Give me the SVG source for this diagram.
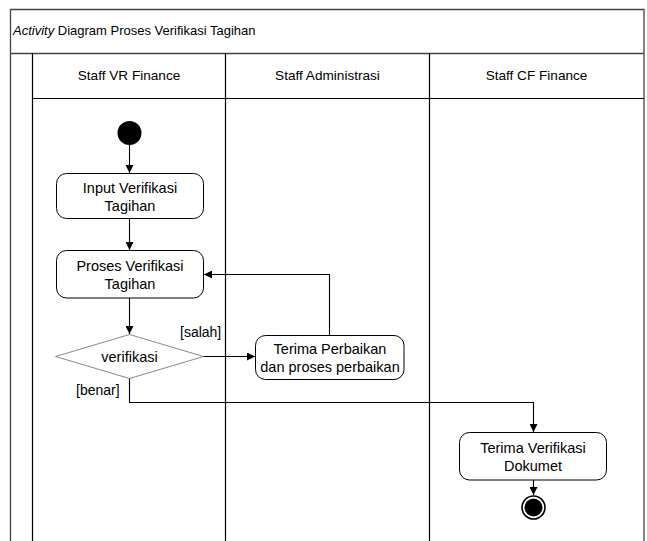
<svg xmlns="http://www.w3.org/2000/svg" width="647" height="541" viewBox="0 0 647 541">
<defs>
<marker id="arr" viewBox="0 0 10 10" refX="10" refY="5" markerWidth="8" markerHeight="8" markerUnits="userSpaceOnUse" orient="auto">
<path d="M0,0 L10,5 L0,10 z" fill="#000"/>
</marker>
<style>
.frame{fill:none;stroke:#444;stroke-width:1.3}
.lane{fill:none;stroke:#000;stroke-width:1.2}
.node{fill:#fff;stroke:#000;stroke-width:1}
.dia{fill:#fff;stroke:#888;stroke-width:1}
.txt{font-family:"Liberation Sans",Arial,sans-serif;font-size:14.5px;fill:#000;text-anchor:middle}
.hdr{font-family:"Liberation Sans",Arial,sans-serif;font-size:13.6px;fill:#000;text-anchor:middle}
.lbl{font-family:"Liberation Sans",Arial,sans-serif;font-size:14px;fill:#000}
.ttl{font-family:"Liberation Sans",Arial,sans-serif;font-size:13px;fill:#000}
.conn{fill:none;stroke:#000;stroke-width:1.1}
</style>
</defs>
<rect x="0" y="0" width="647" height="541" fill="#fff"/>
<g id="frame">
<path class="frame" d="M10.5,541 V9.5 H644 V541"/>
<line class="frame" x1="10.5" y1="53.5" x2="644" y2="53.5"/>
<line class="lane" x1="32.5" y1="53.5" x2="32.5" y2="541"/>
<line class="lane" x1="225.5" y1="53.5" x2="225.5" y2="541"/>
<line class="lane" x1="429.5" y1="53.5" x2="429.5" y2="541"/>
<line class="lane" x1="32.5" y1="98.5" x2="644" y2="98.5"/>
<text class="ttl" x="13" y="35"><tspan font-style="italic">Activity</tspan> Diagram Proses Verifikasi Tagihan</text>
</g>
<g id="lane-headers">
<text class="hdr" x="129" y="80">Staff VR Finance</text>
<text class="hdr" x="327.5" y="80">Staff Administrasi</text>
<text class="hdr" x="536.5" y="80">Staff CF Finance</text>
</g>
<g id="connectors">
<line class="conn" x1="129.5" y1="145" x2="129.5" y2="173" marker-end="url(#arr)"/>
<line class="conn" x1="129.5" y1="218" x2="129.5" y2="250" marker-end="url(#arr)"/>
<line class="conn" x1="129.5" y1="298" x2="129.5" y2="334" marker-end="url(#arr)"/>
<line class="conn" x1="203" y1="356.5" x2="255" y2="356.5" marker-end="url(#arr)"/>
<path class="conn" d="M329.5,335 V274.5 H204" marker-end="url(#arr)"/>
<path class="conn" d="M129.5,378 V402.5 H533.5 V432" marker-end="url(#arr)"/>
<line class="conn" x1="533.5" y1="480" x2="533.5" y2="495" marker-end="url(#arr)"/>
<text class="lbl" x="180" y="337">[salah]</text>
<text class="lbl" x="76" y="395">[benar]</text>
</g>
<g id="start">
<circle cx="129.5" cy="133" r="12" fill="#000"/>
</g>
<g id="input-verifikasi">
<rect class="node" x="56.5" y="173.5" width="147" height="45" rx="10"/>
<text class="txt" x="130" y="193">Input Verifikasi</text>
<text class="txt" x="130" y="211">Tagihan</text>
</g>
<g id="proses-verifikasi">
<rect class="node" x="56.5" y="250.5" width="147" height="47.5" rx="10"/>
<text class="txt" x="130" y="271">Proses Verifikasi</text>
<text class="txt" x="130" y="289">Tagihan</text>
</g>
<g id="decision">
<polygon class="dia" points="129.5,334.5 203.5,356.5 129.5,378.5 55.5,356.5"/>
<text class="txt" x="129.5" y="361.5">verifikasi</text>
</g>
<g id="terima-perbaikan">
<rect class="node" x="255.5" y="335.5" width="148.5" height="44" rx="10"/>
<text class="txt" x="330" y="353.5">Terima Perbaikan</text>
<text class="txt" x="330" y="371.5">dan proses perbaikan</text>
</g>
<g id="terima-verifikasi">
<rect class="node" x="459.5" y="432.5" width="147" height="47.5" rx="10"/>
<text class="txt" x="533" y="452.5">Terima Verifikasi</text>
<text class="txt" x="533" y="470.5">Dokumet</text>
</g>
<g id="end">
<circle cx="533.5" cy="507.5" r="11.5" fill="#fff" stroke="#000" stroke-width="1.6"/>
<circle cx="533.5" cy="507.5" r="9" fill="#000"/>
</g>
</svg>
